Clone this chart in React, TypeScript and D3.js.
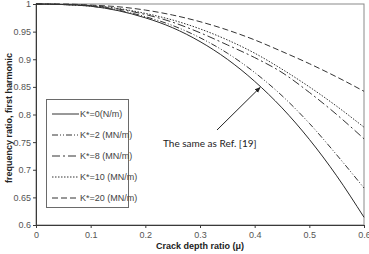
import React, { useEffect, useRef } from 'react';
import * as d3 from 'd3';

// crack depth ratio samples and first-harmonic frequency ratios per spring stiffness
const crackDepth = [0, 0.05, 0.1, 0.15, 0.2, 0.25, 0.3, 0.35, 0.4, 0.45, 0.5, 0.55, 0.6];
const k0 = [1, 0.999, 0.996, 0.988, 0.975, 0.957, 0.932, 0.9, 0.86, 0.812, 0.755, 0.689, 0.614];
const k2 = [1, 0.999, 0.996, 0.989, 0.977, 0.961, 0.939, 0.911, 0.876, 0.834, 0.784, 0.727, 0.667];
const k8 = [1, 0.999, 0.997, 0.991, 0.981, 0.967, 0.948, 0.926, 0.903, 0.876, 0.84, 0.8, 0.756];
const k10 = [1, 0.999, 0.997, 0.992, 0.983, 0.971, 0.955, 0.935, 0.911, 0.882, 0.85, 0.815, 0.777];
const k20 = [1, 1, 0.998, 0.995, 0.989, 0.98, 0.968, 0.953, 0.935, 0.914, 0.892, 0.868, 0.842];

const legendLabels = ['K*=0(N/m)', 'K*=2 (MN/m)', 'K*=8 (MN/m)', 'K*=10 (MN/m)', 'K*=20 (MN/m)'];
const dashes = ['', '6,2,1,2,1,2', '8,3,2,3', '1.5,1.5', '6,3'];

const xTicks = [0, 0.1, 0.2, 0.3, 0.4, 0.5, 0.6];
const yTicks = [0.6, 0.65, 0.7, 0.75, 0.8, 0.85, 0.9, 0.95, 1];

export default function App() {
  const ref = useRef<SVGSVGElement>(null);

  useEffect(() => {
    const svg = d3.select(ref.current);
    svg.selectAll('*').remove();

    const x = d3.scaleLinear().domain([0, 0.6]).range([36, 364]);
    const y = d3.scaleLinear().domain([0.6, 1]).range([225, 4]);
    const font = '"Liberation Sans", Arial, sans-serif';

    // plot frame (top/right edges)
    svg.append('rect')
      .attr('x', x(0)).attr('y', y(1))
      .attr('width', x(0.6) - x(0)).attr('height', y(0.6) - y(1))
      .attr('fill', 'none').attr('stroke', '#8a8a8a').attr('stroke-width', 1);

    const yAxis = svg.append('g')
      .attr('transform', 'translate(' + x(0) + ',0)')
      .call(d3.axisLeft(y).tickValues(yTicks).tickSize(3).tickPadding(2)
        .tickFormat((d) => String(d)));

    const xAxis = svg.append('g')
      .attr('transform', 'translate(0,' + y(0.6) + ')')
      .call(d3.axisBottom(x).tickValues(xTicks).tickSize(3).tickPadding(4)
        .tickFormat((d) => String(d)));

    [yAxis, xAxis].forEach((g) => {
      g.select('.domain').attr('stroke', '#3a3a3a');
      g.selectAll('.tick line').attr('stroke', '#3a3a3a');
      g.selectAll('.tick text')
        .attr('fill', '#555')
        .style('font-family', font)
        .style('font-size', '9px');
    });

    // curves
    const series = [k0, k2, k8, k10, k20];
    const line = d3.line<number>()
      .x((_, i) => x(crackDepth[i]))
      .y((d) => y(d))
      .curve(d3.curveMonotoneX);

    series.forEach((s, i) => {
      svg.append('path')
        .attr('d', line(s))
        .attr('fill', 'none')
        .attr('stroke', i === 0 ? '#2a2a2a' : '#333')
        .attr('stroke-width', 1)
        .attr('stroke-dasharray', dashes[i]);
    });

    // legend
    const legend = svg.append('g');
    legend.append('rect')
      .attr('x', 46.5).attr('y', 99.5).attr('width', 82).attr('height', 108)
      .attr('fill', 'white').attr('stroke', '#6a6a6a');

    legendLabels.forEach((label, i) => {
      const ly = 114 + i * 21;
      legend.append('line')
        .attr('x1', 52).attr('x2', 79).attr('y1', ly).attr('y2', ly)
        .attr('stroke', '#333').attr('stroke-width', 1)
        .attr('stroke-dasharray', dashes[i]);
      legend.append('text')
        .attr('x', 80).attr('y', ly + 3)
        .attr('fill', '#444')
        .style('font-family', font)
        .style('font-size', '9px')
        .text(label);
    });

    // annotation
    svg.append('defs').append('marker')
      .attr('id', 'arrow')
      .attr('viewBox', '0 0 10 10')
      .attr('refX', 9).attr('refY', 5)
      .attr('markerWidth', 6).attr('markerHeight', 6)
      .attr('orient', 'auto')
      .append('path')
      .attr('d', 'M0,1 L10,5 L0,9 Z')
      .attr('fill', '#222');

    svg.append('line')
      .attr('x1', 217).attr('y1', 130)
      .attr('x2', x(0.41)).attr('y2', y(0.849))
      .attr('stroke', '#222').attr('stroke-width', 1)
      .attr('marker-end', 'url(#arrow)');

    svg.append('text')
      .attr('x', 163).attr('y', 147)
      .attr('fill', '#222')
      .style('font-family', 'Lato, "Open Sans", sans-serif')
      .style('font-size', '10px')
      .text('The same as Ref. [19]');

    // axis titles
    svg.append('text')
      .attr('transform', 'translate(12,118) rotate(-90)')
      .attr('text-anchor', 'middle')
      .attr('fill', '#222')
      .style('font-family', font)
      .style('font-size', '9px')
      .style('font-weight', 'bold')
      .text('frequency ratio, first harmonic');

    svg.append('text')
      .attr('x', 200).attr('y', 249)
      .attr('text-anchor', 'middle')
      .attr('fill', '#222')
      .style('font-family', font)
      .style('font-size', '9px')
      .style('font-weight', 'bold')
      .text('Crack depth ratio (μ)');
  }, []);

  return (
    <svg
      ref={ref}
      width={369}
      height={254}
      style={{ position: 'absolute', left: 0, top: 0, background: 'white' }}
    />
  );
}
